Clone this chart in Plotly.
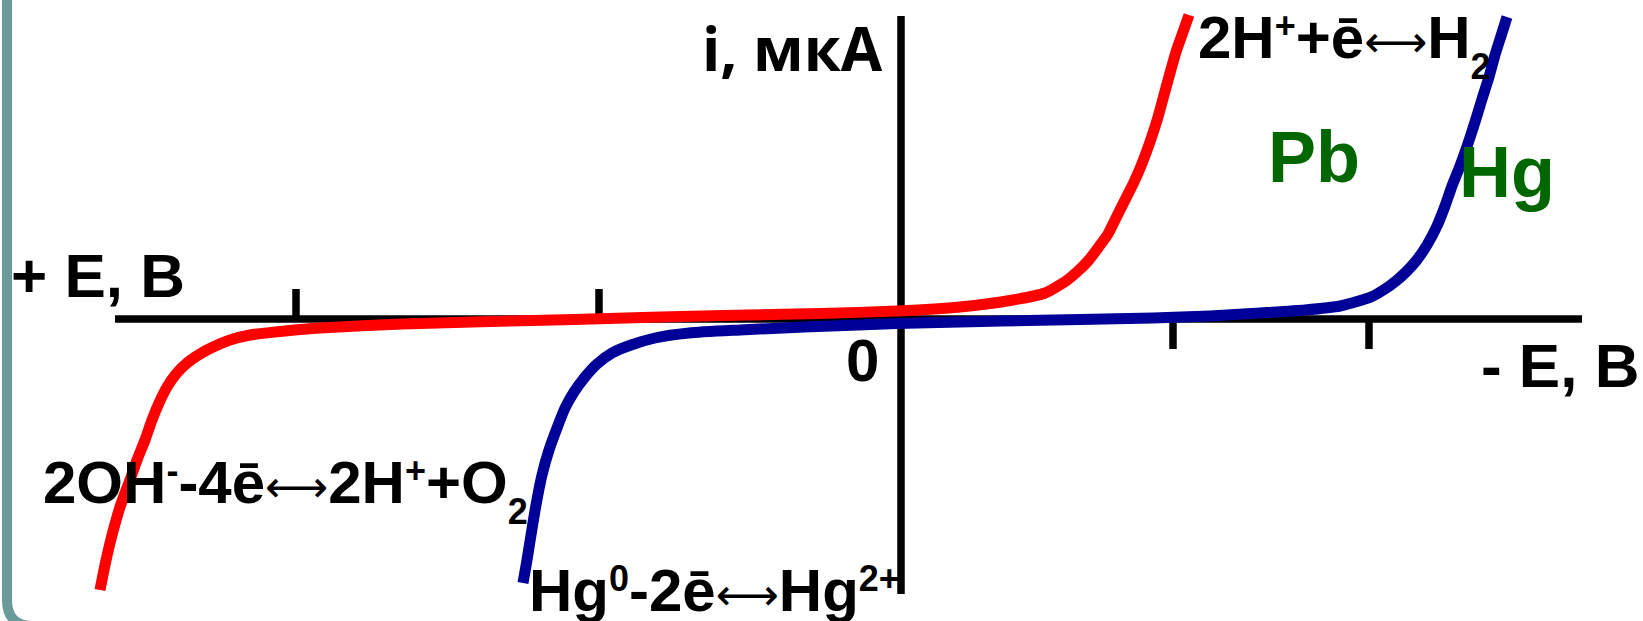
"""Polarization curves on Pb and Hg electrodes (sketch recreation)."""

import plotly.graph_objects as go

# Potential (arbitrary units, origin at axis crossing, right = more negative E)
# and current (arbitrary units, up = cathodic)
pb_e = [-801, -796, -791, -786, -781, -776, -771, -764, -756, -749, -742, -734,
        -725, -714, -701, -688, -671, -651, -616, -581, -499, -411, -327, -241,
        -155, -81, -4, 59, 112, 144, 165, 177, 187, 197, 207, 216, 225, 233,
        240, 250, 257, 263, 269, 275, 282, 288]
pb_i = [-271, -246, -224, -205, -188, -174, -161, -141, -121, -101, -84, -68,
        -55, -44, -35, -28, -21, -16, -12, -9, -5, -2.5, -0.5, 2,
        4, 5.5, 8, 12, 19, 26, 38, 48, 58, 71, 85, 103, 121, 137,
        153, 180, 202, 224, 246, 267, 287, 304]

hg_e = [-378, -374, -370, -365, -359, -352, -344, -336, -327, -316, -304, -289,
        -270, -246, -212, -161, -97, -4, 101, 179, 252, 309, 359, 404, 439,
        470, 484, 495, 505, 515, 526, 536, 544, 551, 559, 566, 574, 581, 588,
        594, 600, 606]
hg_i = [-264, -241, -216, -186, -156, -131, -109, -89, -73, -58, -45, -34,
        -26, -19, -14, -11, -8, -4.5, -2, -0.5, 1, 3, 6, 9, 13,
        22, 30, 38, 47, 58, 74, 93, 113, 133, 153, 172.5, 197, 220, 242,
        264, 283, 302]

# axis extents and tick marks
axis_e = [-786, 681]
axis_i = [-275, 303]
ticks_left = [-605, -302]
ticks_right = [272, 468]
tick_len = 30

FONT = "Liberation Sans, Arial, sans-serif"


def tick_segments(xs, y0, y1):
    tx, ty = [], []
    for x in xs:
        tx += [x, x, None]
        ty += [y0, y1, None]
    return tx, ty


def sup(t):
    return f"<span style='font-size:36px;baseline-shift:20px'>{t}</span>"


def sub(t):
    return f"<span style='font-size:36px;baseline-shift:-21px'>{t}</span>"


# thin long arrow, like the symbol-font one in the original
ARROW = "<span style='font-family:DejaVu Sans;font-size:44px;baseline-shift:1px'>\u27f7</span>"

fig = go.Figure()

# axes
fig.add_trace(go.Scatter(x=axis_e, y=[0, 0], mode="lines",
                         line=dict(color="black", width=7.5)))
fig.add_trace(go.Scatter(x=[0, 0], y=axis_i, mode="lines",
                         line=dict(color="black", width=7.5)))
tx, ty = tick_segments(ticks_left, 0, tick_len)
fig.add_trace(go.Scatter(x=tx, y=ty, mode="lines", line=dict(color="black", width=7.5)))
tx, ty = tick_segments(ticks_right, 0, -tick_len)
fig.add_trace(go.Scatter(x=tx, y=ty, mode="lines", line=dict(color="black", width=7.5)))

# curves
fig.add_trace(go.Scatter(x=pb_e, y=pb_i, mode="lines", name="Pb",
                         line=dict(color="#ff0000", width=11, shape="spline", smoothing=0.6)))
fig.add_trace(go.Scatter(x=hg_e, y=hg_i, mode="lines", name="Hg",
                         line=dict(color="#000099", width=11, shape="spline", smoothing=0.6)))


def label(text, x, y, size=60, color="black", family=FONT):
    fig.add_annotation(x=x, y=y, xref="x", yref="y", text=text, showarrow=False,
                       xanchor="left", yanchor="middle",
                       font=dict(family=family, size=size, color=color))


label("<b>+ E, B</b>", -892, 44, size=62)
label("<b>- E, B</b>", 578, -46, size=62)
label("<b>0</b>", -57, -41)
label("<b>i, мкА</b>", -201, 271, family="Open Sans, sans-serif")
label("<b>2H" + sup("+") + "+ē</b>" + ARROW + "<b>H" + sub("2") + "</b>", 295, 274)
label("<b>Pb</b>", 365, 162, size=72, color="#006600")
label("<b>Hg</b>", 556, 147, size=72, color="#006600")
label("<b>2OH" + sup("-") + "-4ē</b>" + ARROW + "<b>2H" + sup("+") + "+O" + sub("2") + "</b>",
      -860, -171)
label("<b>Hg" + sup("0") + "-2ē</b>" + ARROW + "<b>Hg" + sup("2+") + "</b>", -374, -271)

# slide frame (rounded corner, left edge)
fig.add_shape(type="path", xref="x", yref="y", layer="below",
              path="M -894,380 L -894,-281 Q -894,-307 -868,-307 L 800,-307",
              line=dict(color="#6a9a9a", width=10))

fig.update_xaxes(range=[-901, 742], visible=False)
fig.update_yaxes(range=[-302, 319], visible=False)
fig.update_layout(
    width=1643, height=621,
    margin=dict(l=0, r=0, t=0, b=0, pad=0),
    paper_bgcolor="white", plot_bgcolor="white",
    showlegend=False, hovermode=False,
)

fig.write_html("out.html", config={"displayModeBar": False},
               post_script="document.body.style.margin='0';")
